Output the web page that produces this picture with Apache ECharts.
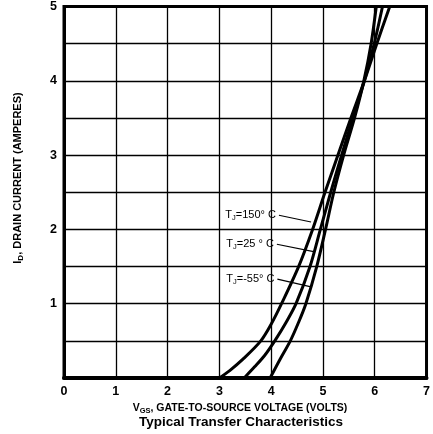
<!DOCTYPE html>
<html>
<head>
<meta charset="utf-8">
<script src="https://cdn.jsdelivr.net/npm/echarts@6/dist/echarts.min.js"></script>
<style>
  html, body { margin: 0; padding: 0; background: #fff; }
  #chart { width: 433px; height: 434px; }
</style>
</head>
<body>
<div id="chart"></div>
<script>
// V_GS (volts) vs I_D (amperes)
const t150 = [[3.0, 0], [3.2, 0.1], [3.45, 0.25], [3.8, 0.5], [4.02, 0.75], [4.2, 1.0], [4.53, 1.5], [4.8, 2.0], [5.04, 2.5], [5.29, 3.0], [5.54, 3.5], [5.8, 4.0], [6.04, 4.5], [6.29, 5.0]];
const t25 = [[3.48, 0], [3.68, 0.15], [3.87, 0.3], [4.07, 0.5], [4.29, 0.75], [4.48, 1.0], [4.75, 1.5], [4.95, 2.0], [5.15, 2.5], [5.36, 3.0], [5.58, 3.5], [5.8, 4.0], [5.99, 4.5], [6.15, 5.0]];
const tm55 = [[3.98, 0], [4.17, 0.25], [4.37, 0.5], [4.53, 0.75], [4.67, 1.0], [4.88, 1.5], [5.05, 2.0], [5.21, 2.5], [5.4, 3.0], [5.61, 3.5], [5.79, 4.0], [5.93, 4.5], [6.03, 5.0]];

const xTicks = [0, 1, 2, 3, 4, 5, 6, 7];
const yTicks = [1, 2, 3, 4, 5];

// label text, pointer start, pointer end
const notes = [
  { text: 'T{s|J}=150° C', from: [4.15, 2.19], to: [4.77, 2.1] },
  { text: 'T{s|J}=25 ° C', from: [4.11, 1.8], to: [4.82, 1.7] },
  { text: 'T{s|J}=-55° C', from: [4.12, 1.33], to: [4.75, 1.23] }
];

const font = 'Liberation Sans';
const chart = echarts.init(document.getElementById('chart'));

function curve(name, data, note) {
  return {
    name: name,
    type: 'line',
    data: data,
    smooth: 0.3,
    symbol: 'none',
    lineStyle: { color: '#000', width: 3 },
    z: 3,
    markLine: {
      silent: true,
      symbol: 'none',
      animation: false,
      lineStyle: { color: '#000', width: 1.2, type: 'solid' },
      label: {
        show: true,
        position: 'start',
        distance: 3,
        formatter: note.text,
        fontFamily: font,
        fontSize: 11,
        color: '#000',
        rich: { s: { fontSize: 7.5, verticalAlign: 'bottom', padding: [7, 0, 0, 0], fontFamily: font } }
      },
      data: [[{ coord: note.from }, { coord: note.to }]]
    }
  };
}

chart.setOption({
  animation: false,
  backgroundColor: '#fff',
  grid: { left: 64, right: 5, top: 6, bottom: 56, show: true, borderColor: '#000', borderWidth: 3 },
  xAxis: {
    type: 'value',
    min: 0, max: 7, interval: 1,
    axisLine: { show: true, lineStyle: { color: '#000', width: 4 } },
    axisTick: { show: false },
    splitLine: { show: true, lineStyle: { color: '#000', width: 1.3 } },
    axisLabel: {
      color: '#000', fontFamily: font, fontWeight: 'bold', fontSize: 12.5, margin: 7,
      formatter: v => xTicks.includes(v) ? String(v) : ''
    }
  },
  yAxis: {
    type: 'value',
    min: 0, max: 5, interval: 0.5,
    axisLine: { show: true, lineStyle: { color: '#000', width: 3 } },
    axisTick: { show: false },
    splitLine: { show: true, lineStyle: { color: '#000', width: 1.3 } },
    axisLabel: {
      color: '#000', fontFamily: font, fontWeight: 'bold', fontSize: 12.5, margin: 7,
      formatter: v => yTicks.includes(v) ? String(v) : ''
    }
  },
  graphic: [
    {
      type: 'text',
      x: 18, y: 178,
      rotation: Math.PI / 2,
      style: {
        text: 'I{s|D}, DRAIN CURRENT (AMPERES)',
        fontFamily: font, fontWeight: 'bold', fontSize: 11, fill: '#000',
        align: 'center', verticalAlign: 'middle',
        rich: { s: { fontSize: 8, fontWeight: 'bold', fontFamily: font, padding: [5, 0, 0, 0] } }
      }
    },
    {
      type: 'text',
      x: 240, y: 408,
      style: {
        text: 'V{s|GS}, GATE-TO-SOURCE VOLTAGE (VOLTS)',
        fontFamily: font, fontWeight: 'bold', fontSize: 10.5, fill: '#000',
        align: 'center', verticalAlign: 'middle',
        rich: { s: { fontSize: 7.5, fontWeight: 'bold', fontFamily: font, padding: [5, 0, 0, 0] } }
      }
    },
    {
      type: 'text',
      x: 241, y: 422,
      style: {
        text: 'Typical Transfer Characteristics',
        fontFamily: font, fontWeight: 'bold', fontSize: 13.5, fill: '#000',
        align: 'center', verticalAlign: 'middle'
      }
    }
  ],
  series: [
    curve('150', t150, notes[0]),
    curve('25', t25, notes[1]),
    curve('-55', tm55, notes[2])
  ]
});
</script>
</body>
</html>
